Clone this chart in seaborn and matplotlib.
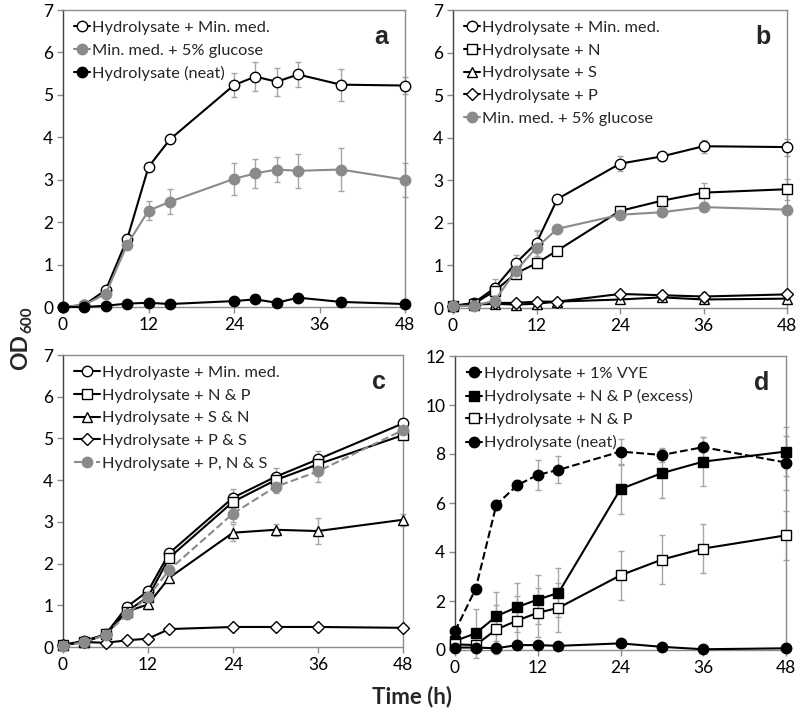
import matplotlib
matplotlib.use("Agg")
import matplotlib.pyplot as plt
import seaborn as sns
import numpy as np
import pandas as pd

# ---------------- data ----------------
time_a = [0, 3, 6, 9, 12, 15, 24, 27, 30, 33, 39, 48]
a_min_med = [0.0, 0.05, 0.40, 1.60, 3.30, 3.95, 5.23, 5.43, 5.31, 5.48, 5.24, 5.22]
a_min_med_err = [0, 0, 0.05, 0.05, 0.05, 0.05, 0.29, 0.34, 0.33, 0.30, 0.38, 0.20]
a_glucose = [0.0, 0.05, 0.31, 1.47, 2.27, 2.48, 3.02, 3.15, 3.24, 3.21, 3.24, 3.00]
a_glucose_err = [0, 0, 0.05, 0.10, 0.22, 0.29, 0.38, 0.35, 0.29, 0.40, 0.51, 0.40]
a_neat = [0.0, 0.0, 0.03, 0.08, 0.10, 0.07, 0.14, 0.18, 0.10, 0.22, 0.12, 0.07]
a_labels = ["Hydrolysate + Min. med.", "Min. med. + 5% glucose", "Hydrolysate (neat)"]

time_b = [0, 3, 6, 9, 12, 15, 24, 30, 36, 48]
b_min_med = [0.05, 0.12, 0.47, 1.05, 1.53, 2.56, 3.39, 3.56, 3.80, 3.78]
b_min_med_err = [0, 0.05, 0.20, 0.20, 0.30, 0.10, 0.17, 0.10, 0.15, 0.20]
b_n = [0.05, 0.10, 0.40, 0.81, 1.05, 1.35, 2.28, 2.52, 2.71, 2.79]
b_n_err = [0, 0.05, 0.15, 0.10, 0.10, 0.10, 0.10, 0.10, 0.22, 0.25]
b_s = [0.05, 0.08, 0.10, 0.08, 0.10, 0.15, 0.20, 0.25, 0.20, 0.22]
b_s_err = [0, 0, 0, 0, 0, 0.05, 0.05, 0.05, 0.05, 0.05]
b_p = [0.05, 0.08, 0.12, 0.12, 0.15, 0.15, 0.33, 0.30, 0.27, 0.32]
b_p_err = [0, 0, 0, 0, 0, 0.05, 0.05, 0.05, 0.10, 0.05]
b_glucose = [0.05, 0.05, 0.17, 0.87, 1.42, 1.86, 2.19, 2.25, 2.37, 2.31]
b_glucose_err = [0, 0, 0.05, 0.10, 0.40, 0.10, 0.10, 0.10, 0.10, 0.10]
b_labels = ["Hydrolysate + Min. med.", "Hydrolysate + N", "Hydrolysate + S",
            "Hydrolysate + P", "Min. med. + 5% glucose"]

time_c = [0, 3, 6, 9, 12, 15, 24, 30, 36, 48]
c_min_med = [0.05, 0.15, 0.30, 0.96, 1.34, 2.25, 3.58, 4.08, 4.50, 5.36]
c_min_med_err = [0, 0, 0.05, 0.10, 0.10, 0.10, 0.20, 0.20, 0.20, 0.10]
c_np = [0.05, 0.12, 0.30, 0.85, 1.20, 2.14, 3.48, 4.00, 4.38, 5.08]
c_np_err = [0, 0, 0.05, 0.10, 0.10, 0.10, 0.15, 0.15, 0.15, 0.10]
c_sn = [0.05, 0.12, 0.30, 0.85, 1.02, 1.66, 2.74, 2.81, 2.78, 3.05]
c_sn_err = [0, 0, 0.05, 0.10, 0.10, 0.10, 0.20, 0.15, 0.32, 0.15]
c_ps = [0.05, 0.12, 0.10, 0.16, 0.20, 0.43, 0.48, 0.48, 0.48, 0.46]
c_ps_err = [0, 0, 0, 0, 0, 0.03, 0.03, 0.03, 0.03, 0.03]
c_pns = [0.02, 0.12, 0.29, 0.78, 1.20, 1.85, 3.20, 3.84, 4.21, 5.20]
c_pns_err = [0, 0, 0.05, 0.10, 0.10, 0.10, 0.20, 0.15, 0.25, 0.10]
c_labels = ["Hydrolyaste + Min. med.", "Hydrolysate + N & P", "Hydrolysate + S & N",
            "Hydrolysate + P & S", "Hydrolysate + P, N & S"]

time_d = [0, 3, 6, 9, 12, 15, 24, 30, 36, 48]
d_vye = [0.77, 2.50, 5.93, 6.72, 7.15, 7.35, 8.10, 7.96, 8.28, 7.65]
d_vye_err = [0.10, 0.20, 0.20, 0.20, 0.60, 0.55, 0.50, 0.30, 0.40, 1.10]
d_np_excess = [0.37, 0.68, 1.38, 1.75, 2.06, 2.33, 6.57, 7.22, 7.69, 8.10]
d_np_excess_err = [0.10, 1.00, 1.00, 1.00, 1.00, 1.00, 1.00, 1.00, 1.00, 1.00]
d_np = [0.23, 0.20, 0.84, 1.20, 1.52, 1.72, 3.05, 3.69, 4.14, 4.68]
d_np_err = [0.10, 0.20, 1.00, 1.00, 1.00, 1.00, 1.00, 1.00, 1.00, 1.00]
d_neat = [0.10, 0.10, 0.07, 0.20, 0.20, 0.17, 0.27, 0.13, 0.03, 0.07]
d_labels = ["Hydrolysate + 1% VYE", "Hydrolysate + N & P (excess)",
            "Hydrolysate + N & P", "Hydrolysate (neat)"]

x_ticks = [0, 12, 24, 36, 48]

# ---------------- style ----------------
sns.set_style("white")
plt.rcParams['font.family'] = ['Lato', 'DejaVu Sans']

GRAY = '#8a8a8a'
EGRAY = '#a6a6a6'
SPINE = '#8c8c8c'

fig = plt.figure(figsize=(7.97, 7.12), dpi=100)
W, H = 797, 712

def make_ax(l, r, t, b):
    return fig.add_axes([l / W, 1 - b / H, (r - l) / W, (b - t) / H])

ax_a = make_ax(63, 405, 10, 307)
ax_b = make_ax(453, 787, 10, 308)
ax_c = make_ax(63, 403, 355, 647)
ax_d = make_ax(455, 786, 356, 650)


def series(ax, t, y, err, label, marker, mfc, mec, color, ls='-', ms=7.5, lw=1.5):
    df = pd.DataFrame({"t": t, "y": y})
    if err is not None:
        ax.errorbar(t, y, yerr=err, fmt='none', ecolor=EGRAY, elinewidth=1.0,
                    capsize=2, capthick=1.0, zorder=2, clip_on=False)
    sns.lineplot(data=df, x="t", y="y", ax=ax, label=label, marker=marker,
                 markersize=ms, markerfacecolor=mfc, markeredgecolor=mec,
                 markeredgewidth=1.0, color=color, linestyle=ls, linewidth=lw,
                 zorder=3, clip_on=False, estimator=None, sort=False)


def style(ax, ymax, ystep, letter, handlelength=1.0):
    ax.set_xlim(0, 48)
    ax.set_ylim(0, ymax)
    ax.set_xticks(x_ticks)
    ax.set_yticks(np.arange(0, ymax + 0.1, ystep))
    ax.set_xlabel("")
    ax.set_ylabel("")
    for s in ['top', 'right', 'bottom']:
        ax.spines[s].set_color(SPINE)
        ax.spines[s].set_linewidth(1.0)
        ax.spines[s].set_visible(True)
    ax.spines['left'].set_color('#404040')
    ax.spines['left'].set_linewidth(1.0)
    ax.tick_params(axis='both', which='both', direction='out', length=4, width=1,
                   color=SPINE, labelsize=12.5, labelcolor='black', pad=3,
                   left=True, bottom=True)
    ax.text(0.95, 0.95, letter, transform=ax.transAxes, ha='right', va='top',
            fontsize=18, fontweight='bold', family=['Liberation Sans', 'DejaVu Sans'])
    leg = ax.legend(loc='upper left', frameon=False, fontsize=11.8,
                    handlelength=handlelength, handletextpad=0.15,
                    labelspacing=0.5, borderaxespad=0.35, borderpad=0.3)
    return leg


# panel a
series(ax_a, time_a, a_min_med, a_min_med_err, a_labels[0], 'o', 'white', 'black', 'black')
series(ax_a, time_a, a_glucose, a_glucose_err, a_labels[1], 'o', GRAY, GRAY, GRAY)
series(ax_a, time_a, a_neat, None, a_labels[2], 'o', 'black', 'black', 'black')
style(ax_a, 7, 1, 'a')

# panel b
series(ax_b, time_b, b_min_med, b_min_med_err, b_labels[0], 'o', 'white', 'black', 'black')
series(ax_b, time_b, b_n, b_n_err, b_labels[1], 's', 'white', 'black', 'black')
series(ax_b, time_b, b_s, b_s_err, b_labels[2], '^', 'white', 'black', 'black')
series(ax_b, time_b, b_p, b_p_err, b_labels[3], 'D', 'white', 'black', 'black', ms=6.5)
series(ax_b, time_b, b_glucose, b_glucose_err, b_labels[4], 'o', GRAY, GRAY, GRAY)
style(ax_b, 7, 1, 'b')

# panel c
series(ax_c, time_c, c_min_med, c_min_med_err, c_labels[0], 'o', 'white', 'black', 'black')
series(ax_c, time_c, c_np, c_np_err, c_labels[1], 's', 'white', 'black', 'black')
series(ax_c, time_c, c_sn, c_sn_err, c_labels[2], '^', 'white', 'black', 'black')
series(ax_c, time_c, c_ps, c_ps_err, c_labels[3], 'D', 'white', 'black', 'black', ms=6.5)
series(ax_c, time_c, c_pns, c_pns_err, c_labels[4], 'o', GRAY, GRAY, GRAY, ls='--')
style(ax_c, 7, 1, 'c', handlelength=1.6)

# panel d
series(ax_d, time_d, d_vye, d_vye_err, d_labels[0], 'o', 'black', 'black', 'black', ls='--')
series(ax_d, time_d, d_np_excess, d_np_excess_err, d_labels[1], 's', 'black', 'black', 'black')
series(ax_d, time_d, d_np, d_np_err, d_labels[2], 's', 'white', 'black', 'black')
series(ax_d, time_d, d_neat, None, d_labels[3], 'o', 'black', 'black', 'black')
style(ax_d, 12, 2, 'd')

# y-axis label "OD600" (bold, subscript 600), rotated
od = fig.text(27 / W, 1 - 370 / H, "OD", rotation=90, rotation_mode='anchor',
              ha='left', va='baseline', fontsize=16.5, fontweight='bold')
fig.canvas.draw()
bb = od.get_window_extent(renderer=fig.canvas.get_renderer())
top_px = bb.y1  # in display pixels from bottom
fig.text(31 / W, (top_px + 1) / H, "600", rotation=90, rotation_mode='anchor',
         ha='left', va='baseline', fontsize=11, fontweight='bold')
fig.text(412 / W, 1 - 697 / H, "Time (h)", ha='center', va='center',
         fontsize=16, fontweight='bold')

fig.savefig("out.png", dpi=100)
